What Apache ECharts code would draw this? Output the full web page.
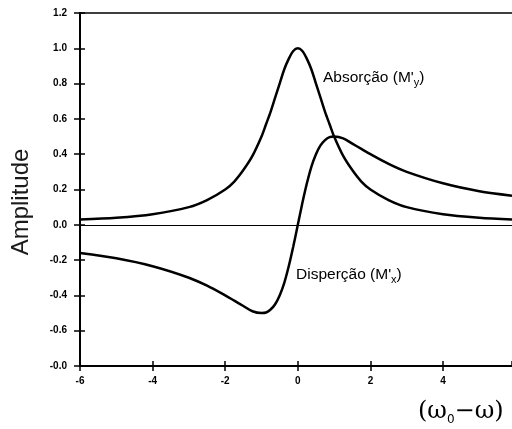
<!DOCTYPE html>
<html>
<head>
<meta charset="utf-8">
<script src="https://cdn.jsdelivr.net/npm/echarts@6/dist/echarts.min.js"></script>
<style>
  html, body { margin: 0; padding: 0; background: #fff; }
  #chart { width: 512px; height: 429px; }
</style>
</head>
<body>
<div id="chart"></div>
<script>
// valores
var freq = [-6, -5, -4, -3, -2.5, -2, -1.75, -1.5, -1.25, -1, -0.875, -0.75, -0.625, -0.5, -0.375, -0.25, -0.125, 0,
            0.125, 0.25, 0.375, 0.5, 0.625, 0.75, 0.875, 1, 1.25, 1.5, 1.75, 2, 2.5, 3, 4, 5, 5.9];
var absorcao = [0.03, 0.04, 0.06, 0.1, 0.14, 0.2, 0.245, 0.31, 0.39, 0.5, 0.57, 0.64, 0.72, 0.8, 0.88, 0.94, 0.985, 1.0,
                0.985, 0.94, 0.88, 0.8, 0.72, 0.64, 0.57, 0.5, 0.39, 0.31, 0.245, 0.2, 0.14, 0.1, 0.06, 0.04, 0.03];
var dispersao = [-0.16, -0.19, -0.235, -0.3, -0.345, -0.4, -0.43, -0.46, -0.49, -0.5, -0.497, -0.48, -0.45, -0.4, -0.33, -0.235, -0.123, 0,
                 0.123, 0.235, 0.33, 0.4, 0.45, 0.48, 0.497, 0.5, 0.49, 0.46, 0.43, 0.4, 0.345, 0.3, 0.235, 0.19, 0.165];
var yLabels = { '-0.8': '-0.0', '-0.6': '-0.6', '-0.4': '-0.4', '-0.2': '-0.2', '0': '0.0', '0.2': '0.2', '0.4': '0.4', '0.6': '0.6', '0.8': '0.8', '1': '1.0', '1.2': '1.2' };

function pares(xs, ys) {
    return xs.map(function (x, i) { return [x, ys[i]]; });
}

var chart = echarts.init(document.getElementById('chart'));
var tickFont = { fontFamily: 'Liberation Sans', fontWeight: 'bold', fontSize: 10, color: '#000' };
var linha = { onZero: false, lineStyle: { color: '#000', width: 2 } };
var traco = { color: '#000', width: 1.5 };

chart.setOption({
    animation: false,
    grid: { left: 80, right: 0, top: 13, bottom: 63 },
    xAxis: [
        {
            type: 'value', min: -6, max: 5.9, interval: 2, position: 'bottom',
            axisLine: linha,
            axisTick: { show: true, length: 5, lineStyle: traco },
            axisLabel: Object.assign({ margin: 10, showMaxLabel: false }, tickFont),
            splitLine: { show: false }
        },
        {
            type: 'value', min: -6, max: 5.9, interval: 2, position: 'bottom',
            axisLine: linha,
            axisTick: { show: true, inside: true, length: 5, lineStyle: traco },
            axisLabel: { show: false },
            splitLine: { show: false }
        },
        {
            type: 'value', min: -6, max: 5.9, position: 'top',
            axisLine: { onZero: false, lineStyle: { color: '#000', width: 1.5 } },
            axisTick: { show: false }, axisLabel: { show: false }, splitLine: { show: false }
        }
    ],
    yAxis: [
        {
            type: 'value', min: -0.8, max: 1.2, interval: 0.2, position: 'left',
            axisLine: Object.assign({ show: true }, linha),
            axisTick: { show: true, length: 6, lineStyle: traco },
            axisLabel: Object.assign({
                margin: 13,
                formatter: function (v) { return yLabels[String(Math.round(v * 10) / 10)]; }
            }, tickFont),
            splitLine: { show: false }
        },
        {
            type: 'value', min: -0.8, max: 1.2, interval: 0.2, position: 'left',
            axisLine: Object.assign({ show: true }, linha),
            axisTick: { show: true, inside: true, length: 5, lineStyle: traco },
            axisLabel: { show: false },
            splitLine: { show: false }
        }
    ],
    series: [
        {
            name: 'Absorção', type: 'line', smooth: 0.3, symbol: 'none',
            data: pares(freq, absorcao),
            lineStyle: { color: '#000', width: 2.5 },
            markLine: {
                silent: true, symbol: 'none', label: { show: false },
                lineStyle: { color: '#000', width: 1, type: 'solid' },
                data: [{ yAxis: 0 }]
            }
        },
        {
            name: 'Disperção', type: 'line', smooth: 0.3, symbol: 'none',
            data: pares(freq, dispersao),
            lineStyle: { color: '#000', width: 2.5 }
        }
    ],
    graphic: [
        {
            type: 'text', x: 21, y: 202, rotation: Math.PI / 2,
            style: {
                text: 'Amplitude', font: '24px "Liberation Sans"', fill: '#1a1a1a',
                textAlign: 'center', textVerticalAlign: 'middle'
            }
        },
        {
            type: 'text', x: 323, y: 68,
            style: {
                text: "Absorção (M'{s|y})",
                font: '15.5px "Liberation Sans"', fill: '#000',
                rich: { s: { fontSize: 11, padding: [9, 0, 0, 0], fontFamily: 'Liberation Sans' } }
            }
        },
        {
            type: 'text', x: 296, y: 265,
            style: {
                text: "Disperção (M'{s|x})",
                font: '15.5px "Liberation Sans"', fill: '#000',
                rich: { s: { fontSize: 11, padding: [9, 0, 0, 0], fontFamily: 'Liberation Sans' } }
            }
        },
        {
            type: 'text', x: 418, y: 398,
            style: {
                text: '(ω{s|0}−ω)',
                font: '24px "DejaVu Serif"', fill: '#000',
                rich: { s: { fontSize: 12, padding: [16, 0, 0, 0], fontFamily: 'DejaVu Sans' } }
            }
        }
    ]
});
</script>
</body>
</html>
